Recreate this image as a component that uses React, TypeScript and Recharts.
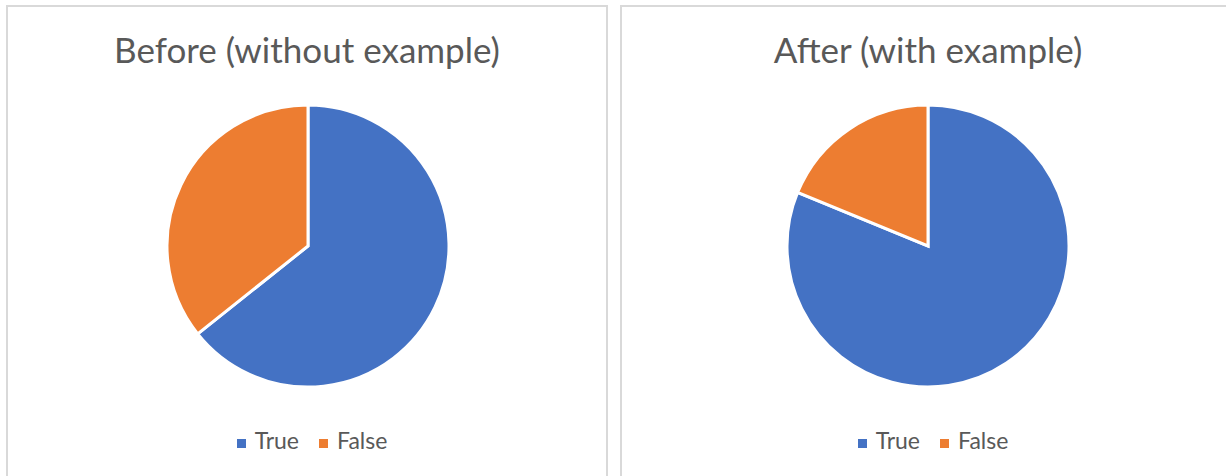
import React from 'react';
import { PieChart, Pie, Cell, Legend } from 'recharts';

const CATEGORIES = ['True', 'False'];
const BEFORE_VALUES = [64.3, 35.7];
const AFTER_VALUES = [81.2, 18.8];
const COLORS = ['#4472C4', '#ED7D31'];

const FONT = 'Lato, "Open Sans", sans-serif';

const toRows = (values: number[]) =>
  CATEGORIES.map((name, i) => ({ name, value: values[i] }));

const Panel: React.FC<{ title: string; values: number[]; left: number; width: number; cx: number }> = ({
  title,
  values,
  left,
  width,
  cx,
}) => {
  const data = toRows(values);
  return (
    <div
      style={{
        position: 'absolute',
        left,
        top: 5,
        width,
        height: 490,
        border: '2px solid #d9d9d9',
        boxSizing: 'border-box',
        background: '#fff',
      }}
    >
      <div
        style={{
          position: 'absolute',
          top: 22,
          left: 0,
          width: '100%',
          textAlign: 'center',
          fontFamily: FONT,
          fontSize: 35,
          color: '#595959',
          lineHeight: '40px',
        }}
      >
        {title}
      </div>
      <div style={{ position: 'absolute', left: 0, top: 0 }}>
        <PieChart width={width - 4} height={470}>
          <Pie
            data={data}
            dataKey="value"
            nameKey="name"
            cx={cx}
            cy={234}
            outerRadius={141}
            startAngle={90}
            endAngle={-270}
            stroke="#ffffff"
            strokeWidth={3}
            isAnimationActive={false}
          >
            {data.map((entry, index) => (
              <Cell key={`cell-${index}`} fill={COLORS[index % COLORS.length]} />
            ))}
          </Pie>
          <Legend
            iconType="square"
            iconSize={9}
            layout="horizontal"
            align="center"
            verticalAlign="bottom"
            itemSorter={(item: any) => CATEGORIES.indexOf(item.value)}
            wrapperStyle={{
              top: 419,
              bottom: 'auto',
              paddingLeft: 30,
              boxSizing: 'border-box',
              fontFamily: FONT,
              fontSize: 23,
            }}
            formatter={(value) => (
              <span style={{ color: '#595959', marginLeft: 5, marginRight: 10 }}>{value}</span>
            )}
          />
        </PieChart>
      </div>
    </div>
  );
};

export default function App() {
  return (
    <div
      style={{
        position: 'fixed',
        left: 0,
        top: 0,
        width: 1226,
        height: 476,
        overflow: 'hidden',
        background: '#fff',
      }}
    >
      <Panel title="Before (without example)" values={BEFORE_VALUES} left={6} width={602} cx={295} />
      <Panel title="After (with example)" values={AFTER_VALUES} left={620} width={616} cx={301} />
    </div>
  );
}
